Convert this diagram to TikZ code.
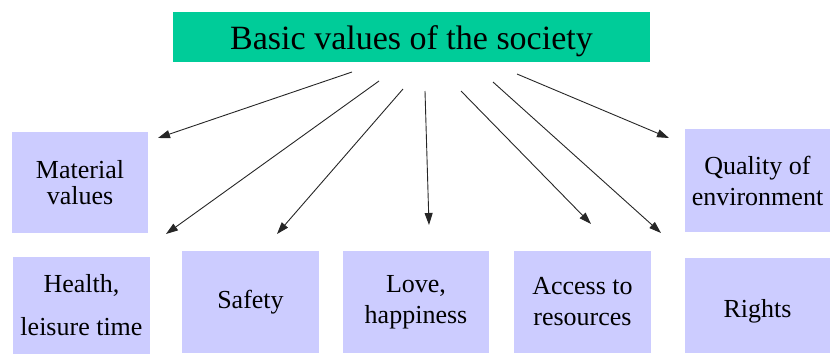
\documentclass[tikz,border=0pt]{standalone}
\usepackage{fontspec}
\setmainfont{Liberation Serif}
\usetikzlibrary{arrows.meta}
\definecolor{titlegreen}{RGB}{0,204,153}
\definecolor{valuebox}{RGB}{204,204,255}
\tikzset{
  value/.style={fill=valuebox, align=center, inner sep=0pt,
    font=\fontsize{26}{31}\selectfont},
  link/.style={-{Triangle[length=12pt,width=8pt]}, line width=0.9pt, black!85}
}
\begin{document}
\begin{tikzpicture}[x=1pt,y=-1pt]
      \useasboundingbox (0,0) rectangle (831,354);
      \node[fill=titlegreen, minimum width=477pt, minimum height=50pt, inner sep=0pt,
        font=\fontsize{34}{38}\selectfont] (title) at (411.5,37) {\raisebox{-12pt}[0pt][0pt]{Basic values of the society}};
      \node[value, minimum width=136pt, minimum height=101pt] (mat) at (80,182.5) {Material\\[-5pt]values};
      \node[value, minimum width=137pt, minimum height=97pt] (health) at (81.5,305) {Health,\\[12pt]leisure time};
      \node[value, minimum width=137pt, minimum height=102pt] (safety) at (250.5,302) {Safety};
      \node[value, minimum width=146pt, minimum height=102pt] (love) at (416,302) {Love,\\happiness};
      \node[value, minimum width=137pt, minimum height=102pt] (access) at (582.5,302) {Access to\\resources};
      \node[value, minimum width=145pt, minimum height=103pt] (quality) at (757.5,180.5) {Quality of\\environment};
      \node[value, minimum width=145pt, minimum height=95pt] (rights) at (757.5,305.5) {\raisebox{-12pt}[0pt][0pt]{Rights}};
      \draw
        (352,72) coordinate (s1)
        (379,81) coordinate (s2)
        (403,89) coordinate (s3)
        (425,91) coordinate (s4)
        (461,91) coordinate (s5)
        (493,82) coordinate (s6)
        (517,74) coordinate (s7)
        (158,138) coordinate (e1)
        (166,234) coordinate (e2)
        (277,234) coordinate (e3)
        (429,225) coordinate (e4)
        (591,224) coordinate (e5)
        (661,233) coordinate (e6)
        (669,138) coordinate (e7);
      \begin{scope}[link]
        \draw (s1) to (e1);
        \draw (s2) to (e2);
        \draw (s3) to (e3);
        \draw (s4) to (e4);
        \draw (s5) to (e5);
        \draw (s6) to (e6);
        \draw (s7) to (e7);
      \end{scope}
    \end{tikzpicture}
\end{document}
